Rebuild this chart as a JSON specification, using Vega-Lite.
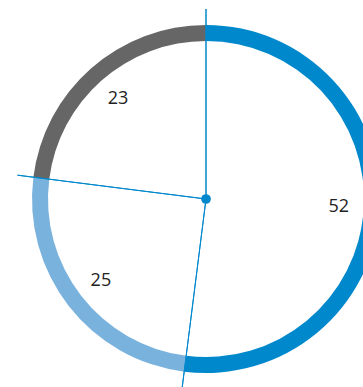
{
  "$schema": "https://vega.github.io/schema/vega-lite/v6.json",
  "autosize": "none",
  "width": 314,
  "height": 376,
  "padding": {"left": 49, "top": 11, "right": 0, "bottom": 0},
  "background": "white",
  "config": {"view": {"stroke": null}},
  "data": {"values": [
    {"cat": "A", "value": 52, "ord": 1},
    {"cat": "B", "value": 25, "ord": 2},
    {"cat": "C", "value": 23, "ord": 3}
  ]},
  "layer": [
    {
      "mark": {"type": "arc", "radius": 174, "radius2": 158},
      "encoding": {
        "theta": {"field": "value", "type": "quantitative", "stack": true, "scale": {"domain": [0, 100]}},
        "order": {"field": "ord", "type": "quantitative"},
        "color": {"field": "cat", "type": "nominal", "legend": null,
          "scale": {"domain": ["A", "B", "C"], "range": ["#0088cc", "#7ab2de", "#666666"]}}
      }
    },
    {
      "transform": [{"stack": "value", "groupby": [], "as": ["v0", "v1"], "sort": [{"field": "ord", "order": "ascending"}]}],
      "mark": {"type": "arc", "radius": 190, "radius2": 0, "filled": false, "stroke": "#0088cc", "strokeWidth": 1},
      "encoding": {
        "theta": {"field": "v0", "type": "quantitative", "stack": null},
        "theta2": {"field": "v0"}
      }
    },
    {
      "data": {"values": [{"c": "center"}]},
      "mark": {"type": "point", "shape": "circle", "filled": true, "size": 95, "color": "#0088cc", "opacity": 1},
      "encoding": {}
    },
    {
      "mark": {"type": "text", "radius": 133, "font": "Open Sans", "fontSize": 18, "color": "#222222", "align": "center", "baseline": "middle"},
      "encoding": {
        "theta": {"field": "value", "type": "quantitative", "stack": true},
        "order": {"field": "ord", "type": "quantitative"},
        "text": {"field": "value", "type": "quantitative"}
      }
    }
  ]
}
